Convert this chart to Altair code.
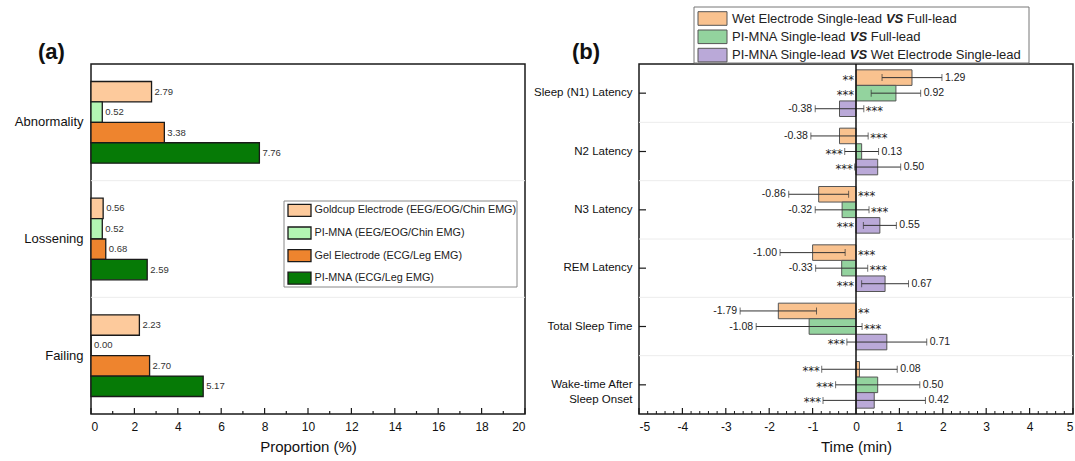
import altair as alt
import pandas as pd

FONT = "Liberation Sans"
STAR_FONT = "DejaVu Sans"

# ---------------- data: panel (a) ----------------
a_categories = ["Abnormality", "Lossening", "Failing"]
a_series = [
    "Goldcup Electrode (EEG/EOG/Chin EMG)",
    "PI-MNA (EEG/EOG/Chin EMG)",
    "Gel Electrode (ECG/Leg EMG)",
    "PI-MNA (ECG/Leg EMG)",
]
a_goldcup = [2.79, 0.56, 2.23]
a_pimna_eeg = [0.52, 0.52, 0.00]
a_gel = [3.38, 0.68, 2.70]
a_pimna_ecg = [7.76, 2.59, 5.17]
a_colors = ["#FDCA9C", "#B3F5B3", "#EE842E", "#067A06"]
a_major_ticks = [0, 2, 4, 6, 8, 10, 12, 14, 16, 18, 20]
a_minor_ticks = [1, 3, 5, 7, 9, 11, 13, 15, 17, 19]

# ---------------- data: panel (b) ----------------
b_categories = [
    "Sleep (N1) Latency",
    "N2 Latency",
    "N3 Latency",
    "REM Latency",
    "Total Sleep Time",
    "Wake-time After Sleep Onset",
]
b_series = [
    "Wet Electrode Single-lead VS Full-lead",
    "PI-MNA Single-lead VS Full-lead",
    "PI-MNA Single-lead VS Wet Electrode Single-lead",
]
b_series_parts = [
    ("Wet Electrode Single-lead", "VS", "Full-lead"),
    ("PI-MNA Single-lead", "VS", "Full-lead"),
    ("PI-MNA Single-lead", "VS", "Wet Electrode Single-lead"),
]
b_wet_vs_full = [1.29, -0.38, -0.86, -1.00, -1.79, 0.08]
b_pimna_vs_full = [0.92, 0.13, -0.32, -0.33, -1.08, 0.50]
b_pimna_vs_wet = [-0.38, 0.50, 0.55, 0.67, 0.71, 0.42]
b_wet_vs_full_err = [0.69, 0.66, 0.69, 0.75, 0.88, 0.87]
b_pimna_vs_full_err = [0.57, 0.39, 0.62, 0.60, 1.22, 0.97]
b_pimna_vs_wet_err = [0.56, 0.53, 0.38, 0.54, 0.92, 1.18]
b_wet_vs_full_sig = ["**", "***", "***", "***", "**", "***"]
b_pimna_vs_full_sig = ["***", "***", "***", "***", "***", "***"]
b_pimna_vs_wet_sig = ["***", "***", "***", "***", "***", "***"]
b_colors = ["#F9C28F", "#93D39E", "#BAA9D8"]
b_major_ticks = [-5, -4, -3, -2, -1, 0, 1, 2, 3, 4, 5]
b_minor_ticks = [round(-5 + 0.2 * k, 1) for k in range(51) if k % 5 != 0]
b_zero = [0]

W, H = 434, 350

# Arial / Liberation Sans advance widths (1/1000 em)
AW = {" ": 278, "-": 333, "A": 667, "E": 667, "F": 611, "I": 278, "M": 833,
      "N": 722, "P": 667, "S": 667, "V": 667, "W": 944, "a": 556, "c": 500,
      "d": 556, "e": 556, "g": 556, "i": 222, "l": 222, "n": 556, "o": 556,
      "r": 333, "t": 278, "u": 556}


def tw(s, size):
    return sum(AW.get(ch, 556) for ch in s) * size / 1000.0


# ================= panel (a) =================
rows = []
for s, vals in zip(a_series, [a_goldcup, a_pimna_eeg, a_gel, a_pimna_ecg]):
    for c, v in zip(a_categories, vals):
        rows.append({"category": c, "series": s, "value": v, "label": f"{v:.2f}"})
df_a = pd.DataFrame(rows)

xa = alt.Scale(domain=[0, 20], nice=False, zero=True)
ya = alt.Scale(domain=a_categories, paddingInner=0.3, paddingOuter=0.15)
yoa = alt.Scale(domain=a_series, paddingInner=0, paddingOuter=0)
axis_xa = alt.Axis(values=a_major_ticks, title="Proportion (%)", labelFontSize=12,
                   labelPadding=7, titleFontSize=15, titlePadding=7,
                   labelExpr="datum.value + ''")
axis_ya = alt.Axis(title=None, labelFontSize=13, labelPadding=8)


def xA(field):
    return alt.X(field, scale=xa, axis=axis_xa)


def yA():
    return alt.Y("category:N", scale=ya, axis=axis_ya)


def oA():
    return alt.YOffset("series:N", scale=yoa)


bars_a = alt.Chart(df_a).mark_bar(stroke="#1a1a1a", strokeWidth=1.3).encode(
    x=xA("value:Q"), y=yA(), yOffset=oA(),
    color=alt.Color("series:N", scale=alt.Scale(domain=a_series, range=a_colors), legend=None),
)
vals_a = alt.Chart(df_a).mark_text(align="left", baseline="middle", dx=3, fontSize=9.5,
                                   font=FONT, color="#333").encode(
    x=xA("value:Q"), y=yA(), yOffset=oA(), text="label:N")

tick_major_a = alt.Chart(pd.DataFrame({"value": a_major_ticks})).mark_rule(
    color="#1a1a1a", strokeWidth=1.2).encode(x=xA("value:Q"), y=alt.value(H), y2=alt.value(H - 6))
tick_minor_a = alt.Chart(pd.DataFrame({"value": a_minor_ticks})).mark_rule(
    color="#1a1a1a", strokeWidth=1.2).encode(x=xA("value:Q"), y=alt.value(H), y2=alt.value(H - 3))

title_a = alt.Chart(pd.DataFrame({"t": ["(a)"]})).mark_text(
    align="left", baseline="middle", fontSize=22, fontWeight="bold", font=FONT, color="#111"
).encode(text="t:N", x=alt.value(-53), y=alt.value(-12))

legend_a = []
box_a = alt.Chart(pd.DataFrame({"t": [""]})).mark_rect(
    fill="white", stroke="#888", strokeWidth=1).encode(
    x=alt.value(193), x2=alt.value(426), y=alt.value(137), y2=alt.value(223))
legend_a.append(box_a)
for i, (s, col) in enumerate(zip(a_series, a_colors)):
    cy = 146.4 + i * 22.6
    d = pd.DataFrame({"t": [s]})
    legend_a.append(alt.Chart(d).mark_rect(fill=col, stroke="#1a1a1a", strokeWidth=1.3).encode(
        x=alt.value(197), x2=alt.value(220), y=alt.value(cy - 6), y2=alt.value(cy + 6)))
    legend_a.append(alt.Chart(d).mark_text(align="left", baseline="middle", fontSize=10.8,
                                           font=FONT, color="#222").encode(
        text="t:N", x=alt.value(223.5), y=alt.value(cy)))

sep_a = alt.Chart(pd.DataFrame({"k": [1, 2]})).mark_rule(color="#ececec", strokeWidth=1).encode(
    y=alt.Y("k:Q", scale=alt.Scale(domain=[0, 3], reverse=True, nice=False, zero=False), axis=None))

inner_a = alt.layer(bars_a, vals_a, tick_major_a, tick_minor_a, title_a, *legend_a)
panel_a = alt.layer(sep_a, inner_a).resolve_scale(y="independent").properties(width=W, height=H)

# ================= panel (b) =================
rows = []
for s, vals, errs, sigs in zip(
        b_series,
        [b_wet_vs_full, b_pimna_vs_full, b_pimna_vs_wet],
        [b_wet_vs_full_err, b_pimna_vs_full_err, b_pimna_vs_wet_err],
        [b_wet_vs_full_sig, b_pimna_vs_full_sig, b_pimna_vs_wet_sig]):
    for c, v, e, g in zip(b_categories, vals, errs, sigs):
        lo, hi = v - e, v + e
        pos = v >= 0
        rows.append({
            "category": c, "series": s, "value": v, "lo": lo, "hi": hi,
            "label": f"{v:.2f}", "sig": g, "pos": pos,
            "vx": hi if pos else lo,
            "sx": min(0.0, lo) if pos else max(0.0, hi),
        })
df_b = pd.DataFrame(rows)
df_bp = df_b[df_b["pos"]]
df_bn = df_b[~df_b["pos"]]

xb = alt.Scale(domain=[-5, 5], nice=False, zero=False)
yb = alt.Scale(domain=b_categories, paddingInner=0.2, paddingOuter=0.1)
yob = alt.Scale(domain=b_series, paddingInner=0, paddingOuter=0)
axis_xb = alt.Axis(values=b_major_ticks, title="Time (min)", labelFontSize=12,
                   labelPadding=7, titleFontSize=15, titlePadding=7,
                   labelExpr="datum.value + ''")
axis_yb = alt.Axis(title=None, labelFontSize=11.5, labelPadding=7, labelLineHeight=15,
                   labelExpr="datum.value == 'Wake-time After Sleep Onset' ? "
                             "['Wake-time After', 'Sleep Onset'] : datum.label")


def xB(field):
    return alt.X(field, scale=xb, axis=axis_xb)


def yB():
    return alt.Y("category:N", scale=yb, axis=axis_yb)


def oB():
    return alt.YOffset("series:N", scale=yob)


bars_b = alt.Chart(df_b).mark_bar(stroke="#555", strokeWidth=1).encode(
    x=xB("value:Q"), y=yB(), yOffset=oB(),
    color=alt.Color("series:N", scale=alt.Scale(domain=b_series, range=b_colors), legend=None),
)
err_b = alt.Chart(df_b).mark_rule(color="#333", strokeWidth=1).encode(
    x=xB("lo:Q"), x2="hi:Q", y=yB(), yOffset=oB())
cap_lo = alt.Chart(df_b).mark_tick(color="#333", thickness=1, size=7, orient="vertical").encode(
    x=xB("lo:Q"), y=yB(), yOffset=oB())
cap_hi = alt.Chart(df_b).mark_tick(color="#333", thickness=1, size=7, orient="vertical").encode(
    x=xB("hi:Q"), y=yB(), yOffset=oB())
lab_p = alt.Chart(df_bp).mark_text(align="left", baseline="middle", dx=3, fontSize=10.5,
                                   font=FONT, color="#222").encode(
    x=xB("vx:Q"), y=yB(), yOffset=oB(), text="label:N")
lab_n = alt.Chart(df_bn).mark_text(align="right", baseline="middle", dx=-3, fontSize=10.5,
                                   font=FONT, color="#222").encode(
    x=xB("vx:Q"), y=yB(), yOffset=oB(), text="label:N")
sig_p = alt.Chart(df_bp).mark_text(align="right", baseline="middle", dx=-2, dy=3, fontSize=11.5,
                                   font=STAR_FONT, color="#222").encode(
    x=xB("sx:Q"), y=yB(), yOffset=oB(), text="sig:N")
sig_n = alt.Chart(df_bn).mark_text(align="left", baseline="middle", dx=2, dy=3, fontSize=11.5,
                                   font=STAR_FONT, color="#222").encode(
    x=xB("sx:Q"), y=yB(), yOffset=oB(), text="sig:N")

zero_b = alt.Chart(pd.DataFrame({"value": b_zero})).mark_rule(color="#111", strokeWidth=1.5).encode(
    x=xB("value:Q"))
tick_major_b = alt.Chart(pd.DataFrame({"value": b_major_ticks})).mark_rule(
    color="#1a1a1a", strokeWidth=1.2).encode(x=xB("value:Q"), y=alt.value(H), y2=alt.value(H - 6))
tick_minor_b = alt.Chart(pd.DataFrame({"value": b_minor_ticks})).mark_rule(
    color="#1a1a1a", strokeWidth=1).encode(x=xB("value:Q"), y=alt.value(H), y2=alt.value(H - 3))
ytick_b = alt.Chart(pd.DataFrame({"category": b_categories})).mark_rule(
    color="#1a1a1a", strokeWidth=1.2).encode(y=yB(), x=alt.value(0), x2=alt.value(7))

title_b = alt.Chart(pd.DataFrame({"t": ["(b)"]})).mark_text(
    align="left", baseline="middle", fontSize=22, fontWeight="bold", font=FONT, color="#111"
).encode(text="t:N", x=alt.value(-67), y=alt.value(-12))

legend_b = []
legend_b.append(alt.Chart(pd.DataFrame({"t": [""]})).mark_rect(
    fill="white", stroke="#777", strokeWidth=1).encode(
    x=alt.value(55), x2=alt.value(390), y=alt.value(-57), y2=alt.value(-1)))
LFS = 13
for i, ((pre, vs, post), col) in enumerate(zip(b_series_parts, b_colors)):
    cy = -45.5 + i * 18.3
    d = pd.DataFrame({"pre": [pre], "vs": [vs], "post": [post]})
    x0 = 93
    x1 = x0 + tw(pre + " ", LFS)
    x2 = x1 + tw(vs + " ", LFS)
    legend_b.append(alt.Chart(d).mark_rect(fill=col, stroke="#555", strokeWidth=1).encode(
        x=alt.value(59), x2=alt.value(88), y=alt.value(cy - 6.8), y2=alt.value(cy + 6.8)))
    legend_b.append(alt.Chart(d).mark_text(align="left", baseline="middle", fontSize=LFS,
                                           font=FONT, color="#222").encode(
        text="pre:N", x=alt.value(x0), y=alt.value(cy)))
    legend_b.append(alt.Chart(d).mark_text(align="left", baseline="middle", fontSize=LFS,
                                           font=FONT, fontWeight="bold", fontStyle="italic",
                                           color="#222").encode(
        text="vs:N", x=alt.value(x1), y=alt.value(cy)))
    legend_b.append(alt.Chart(d).mark_text(align="left", baseline="middle", fontSize=LFS,
                                           font=FONT, color="#222").encode(
        text="post:N", x=alt.value(x2), y=alt.value(cy)))

sep_b = alt.Chart(pd.DataFrame({"k": [1, 2, 3, 4, 5]})).mark_rule(color="#ececec", strokeWidth=1).encode(
    y=alt.Y("k:Q", scale=alt.Scale(domain=[0, 6], reverse=True, nice=False, zero=False), axis=None))

inner_b = alt.layer(bars_b, err_b, cap_lo, cap_hi, zero_b, lab_p, lab_n, sig_p, sig_n,
                    tick_major_b, tick_minor_b, ytick_b, title_b, *legend_b)
panel_b = alt.layer(sep_b, inner_b).resolve_scale(y="independent").properties(width=W, height=H)

chart = alt.hconcat(panel_a, panel_b, spacing=114, bounds="flush").resolve_scale(
    color="independent", yOffset="independent", x="independent", y="independent"
).properties(
    padding={"left": 13, "top": 5, "right": 0, "bottom": 0}
).configure_view(stroke="#1a1a1a", strokeWidth=1.5).configure_axis(
    grid=False, domain=False, ticks=False, labelFont=FONT, titleFont=FONT,
    labelColor="#111", titleColor="#111", titleFontWeight="normal"
)

chart.save("out.html", embed_options={"renderer": "svg", "actions": False})
